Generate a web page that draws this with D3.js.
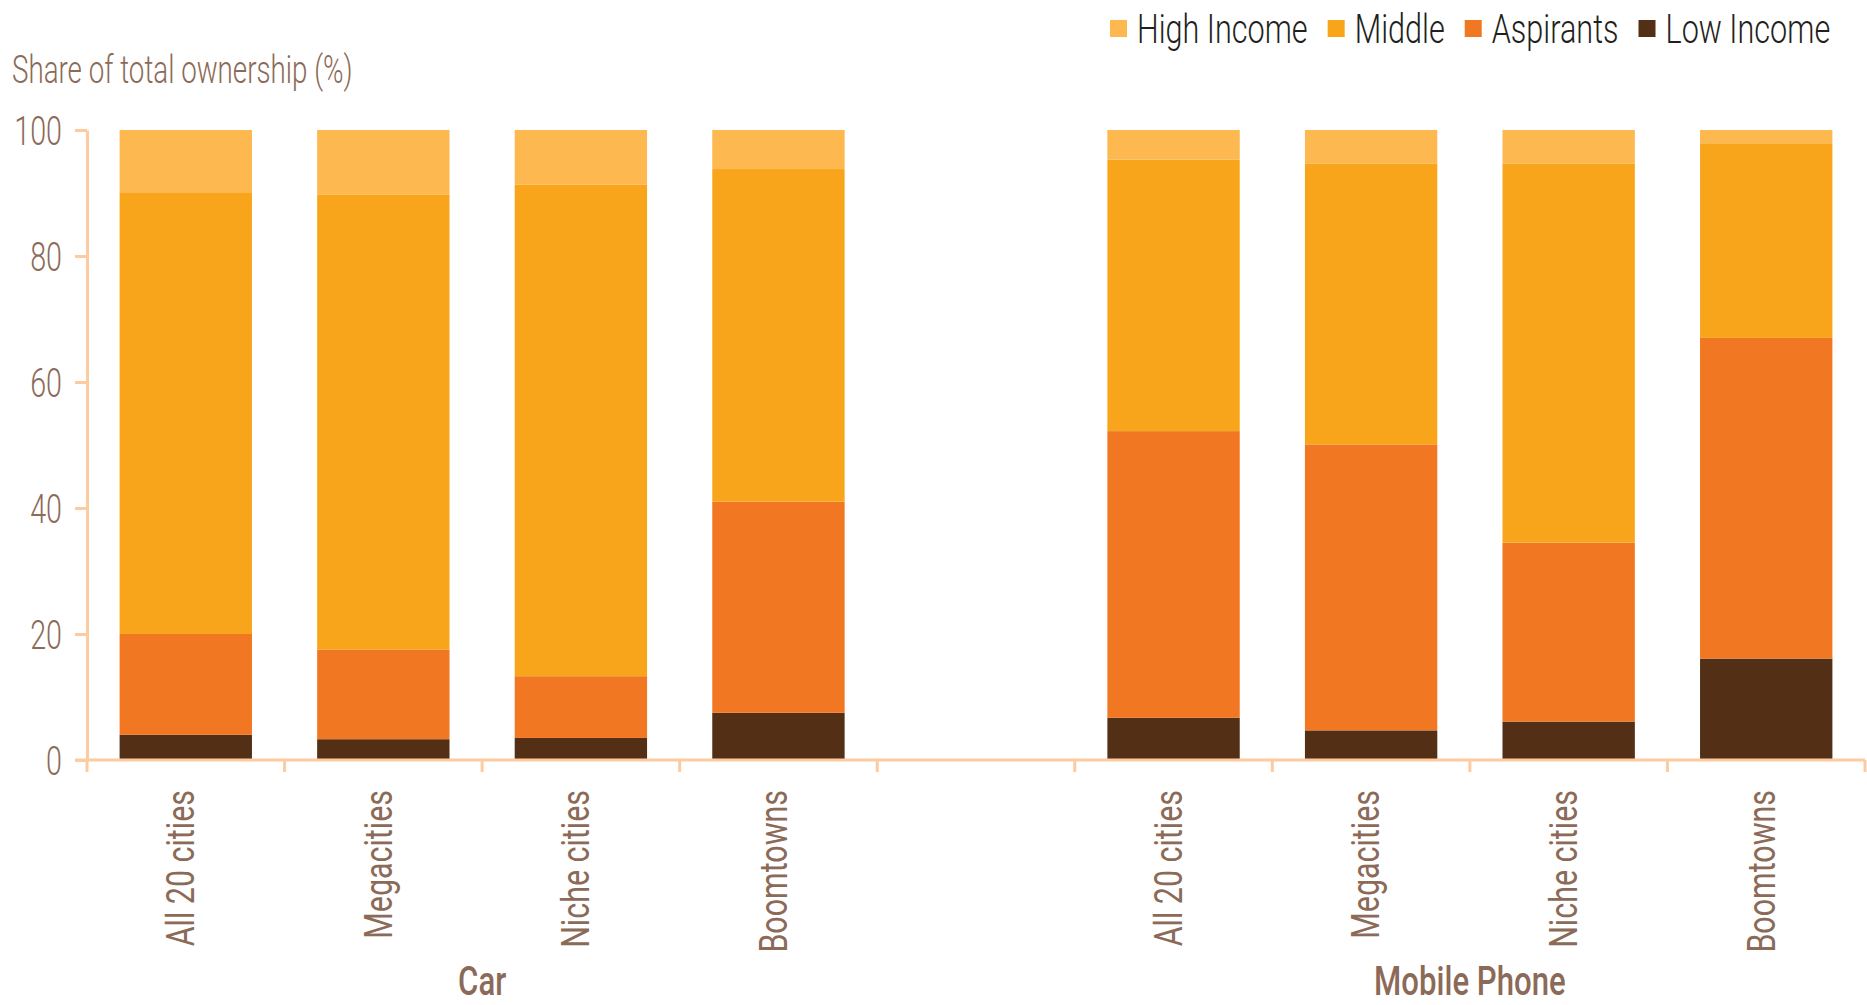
<!DOCTYPE html>
<html><head><meta charset="utf-8">
<script src="https://cdn.jsdelivr.net/npm/d3@7"></script>
<style>body{margin:0;background:#fff;} svg{display:block}</style>
</head><body><svg id="chart" width="1867" height="1005"></svg>
<script>
// ---------- data ----------
const categories = ["All 20 cities", "Megacities", "Niche cities", "Boomtowns"];
const groups = ["Car", "Mobile Phone"];
const stackKeys = ["Low Income", "Aspirants", "Middle", "High Income"];
const legendKeys = ["High Income", "Middle", "Aspirants", "Low Income"];

const carLowIncome   = [4.0, 3.3, 3.5, 7.5];
const carAspirants   = [16.0, 14.2, 9.8, 33.5];
const carMiddle      = [70.0, 72.2, 78.0, 52.8];
const carHighIncome  = [10.0, 10.3, 8.7, 6.2];

const phoneLowIncome  = [6.7, 4.7, 6.1, 16.1];
const phoneAspirants  = [45.5, 45.4, 28.4, 50.9];
const phoneMiddle     = [43.1, 44.6, 60.2, 30.9];
const phoneHighIncome = [4.7, 5.3, 5.3, 2.1];

const yTicks = [0, 20, 40, 60, 80, 100];
const yTitle = "Share of total ownership (%)";

// ---------- styles ----------
const colors = {
  "High Income": "#FDB94F",
  "Middle": "#F8A51B",
  "Aspirants": "#F27722",
  "Low Income": "#532F16"
};
const axisColor = "#FDCBA1";
const labelColor = "#8C6A58";
const FONT = "Roboto, 'Liberation Sans', sans-serif";

// ---------- build rows ----------
const seriesByGroup = {
  "Car": {"Low Income": carLowIncome, "Aspirants": carAspirants, "Middle": carMiddle, "High Income": carHighIncome},
  "Mobile Phone": {"Low Income": phoneLowIncome, "Aspirants": phoneAspirants, "Middle": phoneMiddle, "High Income": phoneHighIncome}
};
const rows = [];
groups.forEach(g => categories.forEach((c, i) => {
  const r = {key: g + "|" + c, group: g, category: c};
  stackKeys.forEach(k => r[k] = seriesByGroup[g][k][i]);
  rows.push(r);
}));
const domain = [];
groups.forEach((g, gi) => {
  categories.forEach(c => domain.push(g + "|" + c));
  if (gi < groups.length - 1) domain.push("gap" + gi);
});

// ---------- scales ----------
const svg = d3.select("#chart");
const plotLeft = 87, plotRight = 1865, plotTop = 130, plotBottom = 760;
const x = d3.scaleBand().domain(domain).range([plotLeft, plotRight]).paddingInner(0.33).paddingOuter(0.165);
const y = d3.scaleLinear().domain([0, 100]).range([plotBottom, plotTop]);

// horizontally condense text (the reference uses a condensed typeface)
function condense(sel, ratio) {
  sel.each(function () {
    const el = d3.select(this);
    const tx = +(el.attr("x") || 0), ty = +(el.attr("y") || 0);
    const prev = el.attr("transform") || "";
    el.attr("x", 0).attr("y", 0)
      .attr("transform", `${prev} translate(${tx},${ty}) scale(${ratio},1)`);
  });
}

// ---------- bars ----------
const stacked = d3.stack().keys(stackKeys)(rows);
svg.append("g").selectAll("g").data(stacked).join("g")
  .attr("fill", d => colors[d.key])
  .selectAll("rect").data(d => d).join("rect")
  .attr("x", d => x(d.data.key))
  .attr("width", x.bandwidth())
  .attr("y", d => y(d[1]))
  .attr("height", d => y(d[0]) - y(d[1]));

// ---------- y axis ----------
const yAxis = svg.append("g").attr("transform", `translate(${plotLeft},0)`)
  .call(d3.axisLeft(y).tickValues(yTicks).tickSize(12).tickSizeOuter(0).tickPadding(13));
yAxis.select(".domain").attr("stroke", axisColor).attr("stroke-width", 3);
yAxis.selectAll(".tick line").attr("stroke", axisColor).attr("stroke-width", 3);
yAxis.selectAll(".tick text").attr("fill", labelColor)
  .attr("font-family", FONT).attr("font-weight", 300).attr("font-size", 41).attr("dy", "0.36em");
condense(yAxis.selectAll(".tick text"), 0.70);

// ---------- x axis ----------
const xAxisG = svg.append("g");
xAxisG.append("line").attr("x1", plotLeft - 12).attr("x2", plotRight).attr("y1", plotBottom).attr("y2", plotBottom)
  .attr("stroke", axisColor).attr("stroke-width", 3);
const boundaries = d3.range(domain.length + 1).map(i => x.range()[0] + i * x.step());
xAxisG.selectAll("line.tk").data(boundaries).join("line").attr("class", "tk")
  .attr("x1", d => d).attr("x2", d => d).attr("y1", plotBottom).attr("y2", plotBottom + 12)
  .attr("stroke", axisColor).attr("stroke-width", 3);

// category labels
const catLabels = svg.append("g").selectAll("text").data(rows).join("text")
  .attr("transform", d => `translate(${x(d.key) + x.bandwidth() / 2},790) rotate(-90)`)
  .attr("dy", "0.22em")
  .attr("text-anchor", "end")
  .attr("fill", labelColor).attr("font-family", FONT).attr("font-size", 38)
  .text(d => d.category);
condense(catLabels, 0.80);

// group labels
const groupLabels = svg.append("g").selectAll("text").data(groups).join("text")
  .attr("x", g => {
    const ks = domain.filter(k => k.startsWith(g + "|"));
    return (x(ks[0]) + x(ks[ks.length - 1]) + x.bandwidth()) / 2;
  })
  .attr("y", 995)
  .attr("text-anchor", "middle")
  .attr("fill", labelColor).attr("font-family", FONT).attr("font-weight", 500).attr("font-size", 41)
  .text(g => g);
condense(groupLabels, 0.76);

// y title
const title = svg.append("text").attr("x", 12).attr("y", 83)
  .attr("fill", labelColor).attr("font-family", FONT).attr("font-weight", 300).attr("font-size", 38)
  .text(yTitle);
condense(title, 0.73);

// ---------- legend ----------
const legend = svg.append("g");
const legendRatio = 0.765;
let lx = 1110;
legendKeys.forEach(k => {
  legend.append("rect").attr("x", lx).attr("y", 20).attr("width", 17).attr("height", 17).attr("fill", colors[k]);
  const t = legend.append("text").attr("x", lx + 27).attr("y", 43)
    .attr("fill", "#231F20").attr("font-family", FONT).attr("font-weight", 300).attr("font-size", 40)
    .text(k);
  const w = t.node().getComputedTextLength() * legendRatio;
  condense(t, legendRatio);
  lx = lx + 27 + w + 20;
});
</script>
</body></html>
